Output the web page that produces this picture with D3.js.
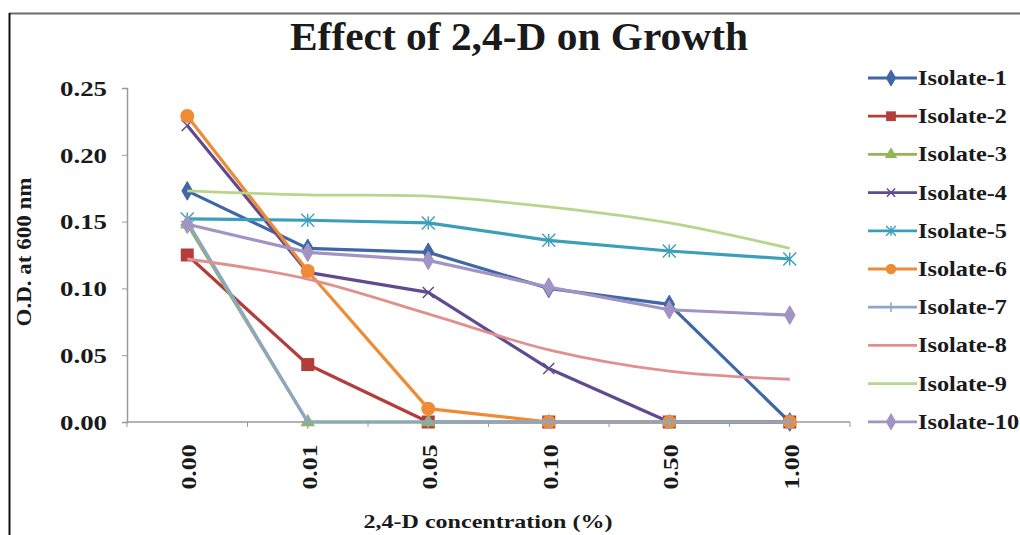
<!DOCTYPE html>
<html><head><meta charset="utf-8">
<script src="https://cdn.jsdelivr.net/npm/d3@7"></script>
<style>
html,body{margin:0;padding:0;background:#fff;}
svg text{font-family:"Liberation Serif","DejaVu Serif",serif;font-weight:bold;fill:#1a1a1a;}
</style></head>
<body><svg id="c" width="1020" height="535"></svg>
<script>
const categories = ["0.00","0.01","0.05","0.10","0.50","1.00"];
const seriesNames = ["Isolate-1","Isolate-2","Isolate-3","Isolate-4","Isolate-5","Isolate-6","Isolate-7","Isolate-8","Isolate-9","Isolate-10"];
const isolate1 = [0.173,0.130,0.127,0.100,0.088,0.000];
const isolate2 = [0.125,0.043,0.000,0.000,0.000,0.000];
const isolate3 = [0.148,0.000,0.000,0.000,0.000,0.000];
const isolate4 = [0.222,0.112,0.097,0.040,0.000,0.000];
const isolate5 = [0.152,0.151,0.149,0.136,0.128,0.122];
const isolate6 = [0.229,0.113,0.010,0.000,0.000,0.000];
const isolate7 = [0.150,0.000,0.000,0.000,0.000,0.000];
const isolate8 = [0.122,0.107,0.081,0.054,0.038,0.032];
const isolate9 = [0.173,0.170,0.169,0.161,0.149,0.130];
const isolate10 = [0.148,0.127,0.121,0.101,0.084,0.080];
const yTicks = [0,0.05,0.10,0.15,0.20,0.25];
const titleText = "Effect of 2,4-D on Growth";
const xTitle = "2,4-D concentration (%)";
const yTitle = "O.D.  at 600 nm";

const allValues = [isolate1,isolate2,isolate3,isolate4,isolate5,isolate6,isolate7,isolate8,isolate9,isolate10];
const colors = ["#3f67a6","#b23d3b","#93b656","#5f4b8e","#3b9fba","#ef8b34","#8ea6c6","#e0918f","#b9d48c","#a193c3"];
const markers = ["diamond","square","triangle","x","star","circle","plus","none","none","diamond"];
const smooth = [false,false,false,false,false,false,false,true,true,false];

const svg = d3.select("#c");
// frame
svg.append("line").attr("x1",9).attr("x2",1020).attr("y1",13.5).attr("y2",13.5).attr("stroke","#6e6e6e").attr("stroke-width",2);
svg.append("line").attr("x1",9.5).attr("x2",9.5).attr("y1",13).attr("y2",535).attr("stroke","#111").attr("stroke-width",2);

const L=127, R=850, T=88, B=422;
const x = d3.scaleBand().domain(categories).range([L,R]);
const y = d3.scaleLinear().domain([0,0.25]).range([B,T]);

// y axis
const yAxis = d3.axisLeft(y).tickValues(yTicks).tickFormat(d3.format(".2f")).tickSize(5).tickPadding(15);
const gy = svg.append("g").attr("transform",`translate(${L},0)`).call(yAxis);
gy.select(".domain").attr("stroke","#9a9a9a").attr("stroke-width",1.5);
gy.selectAll(".tick line").attr("stroke","#9a9a9a");
gy.selectAll(".tick text").style("font-size","20px").attr("fill","#222")
  .attr("textLength",47).attr("lengthAdjust","spacingAndGlyphs").attr("dy","0.36em");

// x axis
const gx = svg.append("g").attr("transform",`translate(0,${B})`);
gx.append("line").attr("x1",L).attr("x2",R).attr("stroke","#9a9a9a").attr("stroke-width",1.5);
const bounds = categories.map(c=>x(c)).concat([R]);
gx.selectAll("line.tk").data(bounds).enter().append("line").attr("class","tk")
  .attr("x1",d=>d).attr("x2",d=>d).attr("y1",0).attr("y2",5).attr("stroke","#9a9a9a");
gx.selectAll("text").data(categories).enter().append("text")
  .attr("transform",d=>`translate(${x(d)+x.bandwidth()/2+9},45) rotate(-90)`)
  .attr("text-anchor","middle").style("font-size","21px")
  .attr("textLength",45).attr("lengthAdjust","spacingAndGlyphs").text(d=>d);

// lines
allValues.forEach((vals,i)=>{
  const line = d3.line().x((d,j)=>x(categories[j])+x.bandwidth()/2).y(d=>y(d))
    .curve(smooth[i]?d3.curveCardinal.tension(0):d3.curveLinear);
  svg.append("path").datum(vals).attr("d",line).attr("fill","none")
    .attr("stroke",colors[i]).attr("stroke-width",smooth[i]?2.8:3.2).attr("stroke-linejoin","round");
  drawMarkers(svg, vals.map((v,j)=>[x(categories[j])+x.bandwidth()/2, y(v)]), markers[i], colors[i]);
});

function drawMarker(g, cx, cy, type, col, s){
  s = s||1;
  if(type==="diamond"){
    g.append("path").attr("d",d3.symbol(d3.symbolDiamond, 100*s)()).attr("transform",`translate(${cx},${cy})`).attr("fill",col).attr("stroke",col);
  } else if(type==="square"){
    g.append("rect").attr("x",cx-6.5*s).attr("y",cy-6.5*s).attr("width",13*s).attr("height",13*s).attr("fill",col);
  } else if(type==="triangle"){
    g.append("path").attr("d",d3.symbol(d3.symbolTriangle, 90*s)()).attr("transform",`translate(${cx},${cy})`).attr("fill",col);
  } else if(type==="circle"){
    g.append("circle").attr("cx",cx).attr("cy",cy).attr("r",7*s).attr("fill",col);
  } else if(type==="x"){
    const r=5.5*s;
    g.append("path").attr("d",`M${cx-r},${cy-r}L${cx+r},${cy+r}M${cx-r},${cy+r}L${cx+r},${cy-r}`).attr("stroke",col).attr("stroke-width",1.5);
  } else if(type==="plus"){
    const r=6.5*s;
    g.append("path").attr("d",`M${cx-r},${cy}L${cx+r},${cy}M${cx},${cy-r}L${cx},${cy+r}`).attr("stroke",col).attr("stroke-width",1.5);
  } else if(type==="star"){
    const r=6.5*s;
    g.append("path").attr("d",`M${cx-r},${cy-r}L${cx+r},${cy+r}M${cx-r},${cy+r}L${cx+r},${cy-r}M${cx},${cy-r}L${cx},${cy+r}`).attr("stroke",col).attr("stroke-width",1.4);
  }
}
function drawMarkers(g, pts, type, col){
  if(type==="none") return;
  pts.forEach(p=>drawMarker(g,p[0],p[1],type,col,1));
}

// legend
const lg = svg.append("g");
let legendScale = null;
seriesNames.forEach((n,i)=>{
  const yy = 78 + i*38.2;
  lg.append("line").attr("x1",868).attr("x2",917).attr("y1",yy).attr("y2",yy).attr("stroke",colors[i]).attr("stroke-width",2.8);
  drawMarker(lg,891,yy,markers[i],colors[i],0.75);
  const t = lg.append("text").attr("x",918).attr("y",yy+7).style("font-size","21px").text(n);
  const w = t.node().getComputedTextLength();
  if(legendScale===null) legendScale = 89 / w;
  t.attr("textLength", w*legendScale).attr("lengthAdjust","spacingAndGlyphs");
});

// titles
svg.append("text").attr("x",519).attr("y",50).attr("text-anchor","middle").style("font-size","40px")
  .attr("textLength",458).attr("lengthAdjust","spacingAndGlyphs").text(titleText);
svg.append("text").attr("x",488).attr("y",528).attr("text-anchor","middle").style("font-size","19px")
  .attr("textLength",249).attr("lengthAdjust","spacingAndGlyphs").text(xTitle);
svg.append("text").attr("transform","translate(31,252) rotate(-90)").attr("text-anchor","middle").style("font-size","20px")
  .attr("textLength",149).attr("lengthAdjust","spacingAndGlyphs").text(yTitle);
</script></body></html>
